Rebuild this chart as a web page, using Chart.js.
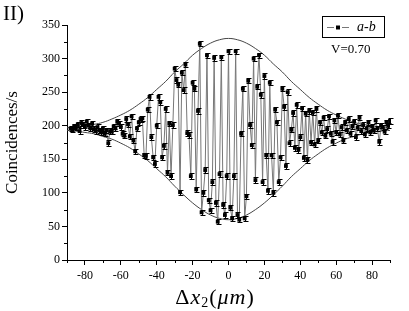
<!DOCTYPE html>
<html>
<head>
<meta charset="utf-8">
<script src="https://cdn.jsdelivr.net/npm/chart.js@4.4.1/dist/chart.umd.min.js"></script>
<style>
  html, body { margin: 0; padding: 0; background: #fff; }
  #wrap { position: relative; width: 409px; height: 311px; font-family: "Liberation Serif", serif; color: #000; }
  canvas { position: absolute; left: 0; top: 0; }
  .txt { position: absolute; white-space: nowrap; line-height: 1; }
  #panel { left: 3px; top: 3px; font-size: 21px; }
  #vis { left: 331px; top: 42px; font-size: 13px; }
  #xt { left: 215px; top: 286px; font-size: 22px; letter-spacing: 1px; transform: translateX(-50%); }
  #xt sub { font-size: 14px; vertical-align: -3px; }
</style>
</head>
<body>
<div id="wrap">
  <canvas id="chart" width="409" height="311"></canvas>
  <div class="txt" id="panel">II)</div>
  <div class="txt" id="vis">V=0.70</div>
  <div class="txt" id="xt">&Delta;<i>x</i><sub>2</sub>(<i>&mu;m</i>)</div>
</div>
<script>
// ── Data ──
const X_UM = [
  -88, -87, -86, -85, -84, -83, -82, -81, -80, -79, -78, -77, -76, -75, -74, -73, -72, -71, -70, -69,
  -68, -67, -66, -65, -64, -63, -62, -61, -60, -59, -58, -57, -56, -55, -54, -53, -52, -51, -50, -49,
  -48, -47, -46, -45, -44, -43, -42, -41, -40, -39, -38, -37, -36, -35, -34, -33, -32, -31, -30, -29,
  -28, -27, -26, -25, -24, -23, -22, -21, -20, -19, -18, -17, -16, -15, -14, -13, -12, -11, -10, -9,
  -8, -7, -6, -5, -4, -3, -2, -1, 0, 1, 2, 3, 4, 5, 6, 7, 8, 9, 10, 11,
  12, 13, 14, 15, 16, 17, 18, 19, 20, 21, 22, 23, 24, 25, 26, 27, 28, 29, 30, 31,
  32, 33, 34, 35, 36, 37, 38, 39, 40, 41, 42, 43, 44, 45, 46, 47, 48, 49, 50, 51,
  52, 53, 54, 55, 56, 57, 58, 59, 60, 61, 62, 63, 64, 65, 66, 67, 68, 69, 70, 71,
  72, 73, 74, 75, 76, 77, 78, 79, 80, 81, 82, 83, 84, 85, 86, 87, 88, 89, 90
];
const COUNTS = [
  196, 194, 199, 197, 202, 192, 204, 201, 198, 206, 200, 196, 203, 195, 192, 198, 193, 190, 196, 188,
  193, 174, 192, 191, 199, 196, 206, 203, 198, 188, 185, 210, 202, 184, 214, 178, 162, 196, 205, 210,
  211, 156, 155, 224, 243, 183, 153, 143, 200, 243, 235, 153, 170, 225, 130, 203, 125, 201, 285, 268,
  261, 101, 279, 253, 291, 189, 186, 125, 264, 255, 105, 222, 322, 71, 100, 134, 305, 89, 74, 116,
  301, 85, 57, 128, 302, 82, 67, 125, 311, 78, 62, 125, 311, 67, 60, 188, 255, 62, 95, 267,
  201, 171, 300, 119, 258, 305, 246, 116, 274, 156, 103, 264, 156, 100, 224, 205, 116, 153, 255, 228,
  140, 250, 174, 194, 219, 167, 231, 164, 183, 226, 152, 218, 149, 222, 175, 220, 172, 225, 178, 205,
  190, 212, 185, 195, 214, 188, 176, 208, 190, 215, 187, 198, 178, 205, 193, 210, 188, 199, 206, 183,
  197, 212, 192, 201, 187, 196, 205, 190, 199, 193, 208, 196, 176, 200, 197, 191, 205, 200, 207
];
const ERR = 4;

// envelope curves (fit, V=0.70)
const ENV_X = [-90, -85, -80, -75, -70, -65, -60, -55, -50, -45, -40, -35, -30, -25, -20, -15, -10, -5, 0,
               5, 10, 15, 20, 25, 30, 35, 40, 45, 50, 55, 60, 65, 70, 75, 80, 85, 90];
const ENV_UPPER = [197, 198, 200, 202, 205, 210, 216, 223, 232, 242, 254, 266, 280, 292, 305, 315, 323, 328, 330,
                   328, 323, 315, 305, 292, 280, 266, 254, 242, 232, 223, 216, 210, 205, 202, 200, 198, 197];
const ENV_LOWER = [193, 192, 190, 188, 184, 180, 174, 167, 158, 148, 136, 124, 110, 97, 85, 75, 67, 62, 60,
                   62, 67, 75, 85, 97, 110, 124, 136, 148, 158, 167, 174, 180, 184, 188, 190, 192, 193];

const X_TICKS = [-80, -60, -40, -20, 0, 20, 40, 60, 80];
const X_MINOR = [-90, -70, -50, -30, -10, 10, 30, 50, 70, 90];
const Y_TICKS = [0, 50, 100, 150, 200, 250, 300, 350];
const Y_MINOR = [25, 75, 125, 175, 225, 275, 325];

const SERIF = '"Liberation Serif", "Times New Roman", serif';

const toXY = (xs, ys) => xs.map((v, i) => ({ x: v, y: ys[i] }));

// error bars, minor ticks and the legend box
const extras = {
  id: 'extras',
  afterDatasetsDraw(chart) {
    const { ctx, scales: { x, y } } = chart;
    ctx.save();
    ctx.strokeStyle = '#000';
    ctx.lineWidth = 1;
    ctx.beginPath();
    X_UM.forEach((v, i) => {
      const px = Math.round(x.getPixelForValue(v)) + 0.5;
      const top = Math.round(y.getPixelForValue(COUNTS[i] + ERR)) + 0.5;
      const bot = Math.round(y.getPixelForValue(COUNTS[i] - ERR)) + 0.5;
      ctx.moveTo(px, top); ctx.lineTo(px, bot);
      ctx.moveTo(px - 2, top); ctx.lineTo(px + 3, top);
      ctx.moveTo(px - 2, bot); ctx.lineTo(px + 3, bot);
    });
    ctx.stroke();
    ctx.restore();
  },
  afterDraw(chart) {
    const { ctx, chartArea: a, scales: { x, y } } = chart;
    ctx.save();
    ctx.strokeStyle = '#000';
    ctx.lineWidth = 1;
    ctx.beginPath();
    Y_MINOR.forEach(v => {
      const py = Math.round(y.getPixelForValue(v)) + 0.5;
      ctx.moveTo(a.left - 3, py); ctx.lineTo(a.left, py);
    });
    X_MINOR.forEach(v => {
      const px = Math.round(x.getPixelForValue(v)) + 0.5;
      ctx.moveTo(px, a.bottom); ctx.lineTo(px, a.bottom + 3);
    });
    ctx.stroke();

    // legend
    ctx.strokeRect(322.5, 16.5, 62, 21);
    ctx.strokeStyle = '#777';
    ctx.beginPath();
    ctx.moveTo(327, 27.5); ctx.lineTo(334, 27.5);
    ctx.moveTo(342, 27.5); ctx.lineTo(349, 27.5);
    ctx.stroke();
    ctx.fillStyle = '#000';
    ctx.fillRect(336, 25.5, 4, 4);
    ctx.font = 'italic 14px ' + SERIF;
    ctx.textBaseline = 'middle';
    ctx.fillText('a-b', 357, 27.5);
    ctx.restore();
  }
};

new Chart(document.getElementById('chart'), {
  type: 'line',
  data: {
    datasets: [
      {
        label: 'a-b',
        data: toXY(X_UM, COUNTS),
        borderColor: '#777',
        borderWidth: 1,
        pointStyle: 'rect',
        pointRadius: 2.7,
        pointBackgroundColor: '#000',
        pointBorderWidth: 0,
        tension: 0
      },
      {
        data: toXY(ENV_X, ENV_UPPER),
        borderColor: '#444',
        borderWidth: 1,
        pointRadius: 0,
        tension: 0.4
      },
      {
        data: toXY(ENV_X, ENV_LOWER),
        borderColor: '#444',
        borderWidth: 1,
        pointRadius: 0,
        tension: 0.4
      }
    ]
  },
  options: {
    responsive: false,
    animation: false,
    devicePixelRatio: 1,
    layout: { padding: { left: 0, top: 25, right: 19, bottom: 0 } },
    plugins: { legend: { display: false }, tooltip: { enabled: false } },
    scales: {
      x: {
        type: 'linear',
        min: -90,
        max: 90,
        afterBuildTicks: s => { s.ticks = X_TICKS.map(v => ({ value: v })); },
        afterFit: s => { s.height = 51; },
        ticks: { font: { family: SERIF, size: 12 }, color: '#000', padding: 4, maxRotation: 0, autoSkip: false },
        grid: { drawOnChartArea: false, tickLength: 5, color: '#000' },
        border: { color: '#000', width: 1 }
      },
      y: {
        min: 0,
        max: 350,
        afterBuildTicks: s => { s.ticks = Y_TICKS.map(v => ({ value: v })); },
        afterFit: s => { s.width = 67; },
        ticks: { font: { family: SERIF, size: 12 }, color: '#000', padding: 2, autoSkip: false },
        grid: { drawOnChartArea: false, tickLength: 5, color: '#000' },
        border: { color: '#000', width: 1 },
        title: {
          display: true,
          text: 'Coincidences/s',
          font: { family: SERIF, size: 17 },
          color: '#000',
          padding: { top: 2, bottom: 0 }
        }
      }
    }
  },
  plugins: [extras]
});
</script>
</body>
</html>
